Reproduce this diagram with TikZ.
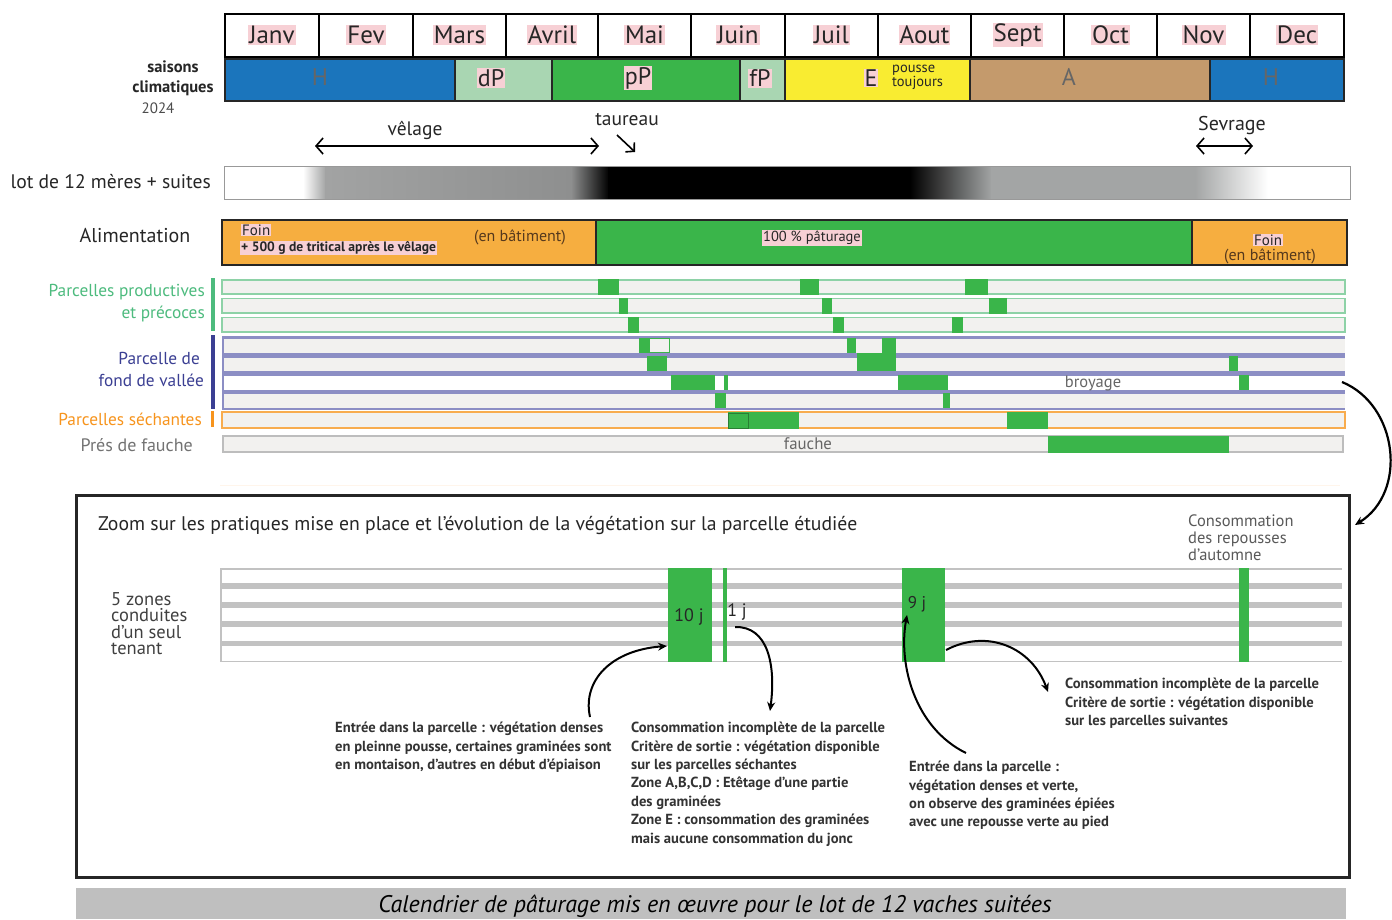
\documentclass[tikz,border=0pt]{standalone}
\usepackage{fontspec}
\setmainfont{PT Sans}
\usetikzlibrary{arrows.meta}
\definecolor{cH}{HTML}{1B75BC}
\definecolor{cdP}{HTML}{A9D6B2}
\definecolor{cG}{HTML}{3AB54A}
\definecolor{cE}{HTML}{F9EC31}
\definecolor{cA}{HTML}{C49A6C}
\definecolor{cOr}{HTML}{F6AE40}
\definecolor{hl}{HTML}{F7D0D5}
\definecolor{rowbg}{HTML}{F2F1EF}
\definecolor{gline}{HTML}{8ED2A7}
\definecolor{bline}{HTML}{8C8EC4}
\definecolor{oline}{HTML}{F8AC4E}
\definecolor{grline}{HTML}{BDBDBD}
\definecolor{txtG}{HTML}{4DBB7E}
\definecolor{txtB}{HTML}{3B3F93}
\definecolor{txtO}{HTML}{F7941D}
\definecolor{dk}{HTML}{262626}
\definecolor{capg}{HTML}{BFBFBF}
\definecolor{gra}{HTML}{A2A3A3}
\definecolor{grb}{HTML}{8E8F8F}
\definecolor{grc}{HTML}{A3A5A5}
\definecolor{zg}{HTML}{C2C2C2}
\definecolor{ann}{HTML}{333333}
\tikzset{
  every node/.style={inner sep=0pt, text=dk},
  monbox/.style={draw=black, line width=1.8pt, fill=white},
  seas/.style={draw=dk, line width=1.4pt},
  hlt/.style={fill=hl, inner sep=1pt},
  ftmon/.style={font=\fontsize{25}{28}\selectfont},
  ftsea/.style={font=\fontsize{24}{26}\selectfont},
  ftlab/.style={font=\fontsize{17.3}{19}\selectfont},
  ftsm/.style={font=\fontsize{15}{17}\selectfont},
  ftann/.style={font=\bfseries\fontsize{14.6}{18.4}\selectfont, text=ann, align=left, anchor=north west},
  gblk/.style={fill=cG},
  arr/.style={line width=2pt, -{Stealth[length=9pt,width=8pt]}},
  barb/.style={line width=1.6pt, {Straight Barb[length=7pt,width=16pt]}-{Straight Barb[length=7pt,width=16pt]}},
}
\begin{document}
\begin{tikzpicture}[x=1pt,y=-1pt]
\useasboundingbox (0,0) rectangle (1392,919);
\fill[white] (0,0) rectangle (1392,919);

% ---- months
\foreach \a/\b/\n [count=\i] in {225/319/Janv,319/413/Fev,413/506/Mars,506/598/Avril,598/691/Mai,691/785/Juin,785/878/Juil,878/971/Aout,971/1064/Sept,1064/1157/Oct,1157/1250/Nov,1250/1344/Dec}{
  \draw[monbox] (\a,14) rectangle (\b,57);
  \node[ftmon,hlt] (mon\i) at ({(\a+\b)/2},35) {\n};
}

% ---- seasons
\draw[seas,fill=cH] (225,59) rectangle (455,101);
\draw[seas,fill=cdP] (455,59) rectangle (552,101);
\draw[seas,fill=cG] (552,59) rectangle (740,101);
\draw[seas,fill=cdP] (740,59) rectangle (785,101);
\draw[seas,fill=cE] (785,59) rectangle (970,101);
\draw[seas,fill=cA] (970,59) rectangle (1210,101);
\draw[seas,fill=cH] (1210,59) rectangle (1344,101);
\node[ftsea,text=black!60] (sH1) at (320,77) {H};
\node[ftsea,hlt] (sdP) at (491,78) {dP};
\node[ftsea,hlt] (spP) at (638,78) {pP};
\node[ftsea,hlt] (sfP) at (760,78) {fP};
\node[ftsea,hlt] (sE) at (871,78) {E};
\node[align=left,anchor=west,font=\fontsize{14.5}{12}\selectfont] (spt) at (892,77) {pousse\\toujours};
\node[ftsea,text=black!60] (sA) at (1069,77) {A};
\node[ftsea,text=black!60] (sH2) at (1271,77) {H};
\node[font=\bfseries\fontsize{16.5}{20}\selectfont,align=center] (saisons) at (173,78) {saisons\\climatiques};
\node[font=\fontsize{15}{16}\selectfont,text=black!70] (an) at (158,108) {2024};

% ---- calving, bull, weaning
\node[font=\fontsize{19.5}{21}\selectfont] (tvel) at (415,130) {vêlage};
\coordinate (velL) at (315,146);
\coordinate (velR) at (599,146);
\draw[barb] (velL) -- (velR);
\node[font=\fontsize{19.5}{21}\selectfont] (ttau) at (627,120) {taureau};
\coordinate (tauA) at (617,135);
\coordinate (tauB) at (635,152);
\draw[line width=1.6pt,-{Straight Barb[length=6pt,width=13pt]}] (tauA) -- (tauB);
\node[font=\fontsize{20}{22}\selectfont] (tsev) at (1232,125) {Sevrage};
\coordinate (sevL) at (1196,146);
\coordinate (sevR) at (1253,146);
\draw[barb] (sevL) -- (sevR);

% ---- herd bar
\node[font=\fontsize{19.6}{21}\selectfont,anchor=east] (tlot) at (211,182) {lot de 12 mères + suites};
\fill[white] (224,166) rectangle (304,199);
\shade[left color=white,right color=gra] (303,166) rectangle (326,199);
\shade[left color=gra,right color=grb] (325,166) rectangle (572,199);
\shade[left color=grb,right color=black] (571,166) rectangle (609,199);
\fill[black] (608,166) rectangle (911,199);
\shade[left color=black,right color=grc] (910,166) rectangle (992,199);
\fill[grc] (991,166) rectangle (1196,199);
\shade[left color=grc,right color=white] (1195,166) rectangle (1268,199);
\draw[black!40,line width=1pt] (224,166) rectangle (1350,199);

% ---- feeding
\node[font=\fontsize{20}{22}\selectfont] (talim) at (135,236) {Alimentation};
\fill[cOr] (222,220) rectangle (596,265);
\fill[cG] (596,220) rectangle (1192,265);
\fill[cOr] (1192,220) rectangle (1347,265);
\draw[dk,line width=1.6pt] (222,220) rectangle (1347,265);
\draw[dk,line width=1.4pt] (596,220) -- (596,265) (1192,220) -- (1192,265);
\node[ftsm,hlt,anchor=west] (foin1) at (241,230) {Foin};
\node[font=\bfseries\fontsize{13.6}{15}\selectfont,hlt,anchor=west] (trit) at (240,248) {+ 500 g de tritical après le vêlage};
\node[font=\fontsize{16}{18}\selectfont,text=black!55!brown] (bat1) at (520,237) {(en bâtiment)};
\node[font=\fontsize{14.5}{16}\selectfont,hlt] (pat) at (812,238) {100 \% pâturage};
\node[ftsm,hlt] (foin2) at (1268,240) {Foin};
\node[font=\fontsize{16}{18}\selectfont,text=black!55!brown] (bat2) at (1270,256) {(en bâtiment)};

% ---- plot rows: labels
\fill[txtG] (211,278) rectangle (215,331);
\fill[txtB] (211,335) rectangle (215,409);
\fill[txtO] (211,411) rectangle (214,427);
\node[ftlab,text=txtG,anchor=east] (lp1) at (205,292) {Parcelles productives};
\node[ftlab,text=txtG,anchor=east] (lp2) at (205,314) {et précoces};
\node[ftlab,text=txtB,anchor=east] (lv1) at (200,358) {Parcelle de};
\node[ftlab,text=txtB,anchor=east] (lv2) at (204,380) {fond de vallée};
\node[ftlab,text=txtO,anchor=east] (ls) at (202,419) {Parcelles séchantes};
\node[font=\fontsize{18}{20}\selectfont,text=black!55,anchor=east] (lf) at (193,445) {Prés de fauche};

% green rows
\foreach \ya/\yb in {280/294,298.5/313,317.5/332}{
  \draw[gline,line width=1.6pt,fill=rowbg] (222,\ya) rectangle (1345,\yb);
}
% blue rows
\fill[bline] (222,336) rectangle (1345,410);
\fill[rowbg] (223.5,338.5) rectangle (1345,352.5);
\fill[rowbg] (223.5,357.5) rectangle (1345,370.5);
\fill[white] (223.5,375.5) rectangle (1345,389.5);
\fill[rowbg] (223.5,393.5) rectangle (1345,407.5);
% dry row
\draw[oline,line width=1.8pt,fill=rowbg] (222,412) rectangle (1345,428);
% hay row
\draw[grline,line width=1.5pt,fill=rowbg] (223,436) rectangle (1343,452);

% grazing blocks
\foreach \xa/\xb/\ya/\yb in {
  598/619/279/295, 800/819/279/295, 965/988/279/295,
  619/628/298/314, 822/832/298/314, 989/1007/298/314,
  628/639/317/333, 833/844/317/333, 952/963/317/333,
  639/649/338/353, 847/856/338/353, 882/896/338/371,
  647/667/356/371, 857/896/353/371, 1229/1238/356/371,
  671/715/375/390, 898/948/375/390, 1239/1249/375/390,
  715/726/393/408, 943/950/393/408,
  728/799/412/429, 1007/1048/412/429,
  1048/1229/436/453}{
  \fill[gblk] (\xa,\ya) rectangle (\xb,\yb);
}
\draw[cG,line width=1pt] (649,338.5) rectangle (669,352.5);
\fill[gblk] (724,375) rectangle (728,390);
\draw[cG!70!black,line width=0.8pt] (728,413) rectangle (748,428);
\node[font=\fontsize{16.5}{18}\selectfont,text=black!60] (broy) at (1093,383) {broyage};
\node[font=\fontsize{16.8}{18}\selectfont,text=black!60] (fau) at (808,444) {fauche};

% faint separator
\draw[orange!8,line width=1pt] (220,485) -- (1340,485);

% link to zoom box
\coordinate (rowEnd) at (1342,382);
\coordinate (boxIn) at (1355,525);
\draw[arr,line width=2.2pt] (rowEnd) .. controls (1398,405) and (1408,492) .. (boxIn);

% ---- zoom box
\node[draw=dk,line width=2.6pt,minimum width=1273pt,minimum height=382pt,anchor=north west] (zbox) at (75,494) {};
\node[font=\fontsize{19.7}{21}\selectfont,anchor=west] (ztitle) at (98,525) {Zoom sur les pratiques mise en place et l'évolution de la végétation sur la parcelle étudiée};
\node[font=\fontsize{16.5}{17}\selectfont,text=black!65,align=left,anchor=north west] (zrep) at (1188,515) {Consommation\\des repousses\\d'automne};
\node[font=\fontsize{18.5}{16.5}\selectfont,text=black!75,align=left,anchor=north west] (z5) at (111,592) {5 zones\\conduites\\d'un seul\\tenant};

\fill[zg] (220,568) rectangle (1342,662);
\foreach \ya/\yb in {569.5/583,588.5/602,607.5/621,627/640.5,646/660.5}{
  \fill[white] (221.5,\ya) rectangle (1342,\yb);
}
\fill[gblk] (668,568) rectangle (712,662);
\fill[gblk] (723,568) rectangle (727,662);
\fill[gblk] (902,568) rectangle (945,662);
\fill[gblk] (1239,568) rectangle (1249,662);
\node[font=\fontsize{18}{19}\selectfont] (d10) at (689,617) {10 j};
\node[font=\fontsize{18}{19}\selectfont] (d1) at (737,612) {1 j};
\node[font=\fontsize{17}{18}\selectfont] (d9) at (917,604) {9 j};

% annotations
\node[ftann] (annA) at (335,722) {Entrée dans la parcelle : végétation denses\\en pleinne pousse, certaines graminées sont\\en montaison, d'autres en début d'épiaison};
\node[ftann] (annB) at (631,722) {Consommation incomplète de la parcelle\\Critère de sortie : végétation disponible\\sur les parcelles séchantes\\Zone A,B,C,D : Etêtage d'une partie\\des graminées\\Zone E : consommation des graminées\\mais aucune consommation du jonc};
\node[ftann] (annC) at (909,761) {Entrée dans la parcelle :\\végétation denses et verte,\\on observe des graminées épiées\\avec une repousse verte au pied};
\node[ftann] (annD) at (1065,678) {Consommation incomplète de la parcelle\\Critère de sortie : végétation disponible\\sur les parcelles suivantes};

\coordinate (a1s) at (590,717);
\coordinate (a1e) at (667,646);
\draw[arr] (a1s) .. controls (582,680) and (612,650) .. (a1e);
\coordinate (a2s) at (735,627);
\coordinate (a2e) at (770,711);
\draw[arr] (a2s) .. controls (768,626) and (776,665) .. (a2e);
\coordinate (a3s) at (966,753);
\coordinate (a3e) at (907,615);
\draw[arr] (a3s) .. controls (915,728) and (898,665) .. (a3e);
\coordinate (a4s) at (946,650);
\coordinate (a4e) at (1048,692);
\draw[arr] (a4s) .. controls (988,628) and (1032,648) .. (a4e);

% ---- caption
\fill[capg] (76,888) rectangle (1346,919);
\node[font=\itshape\fontsize{24}{25}\selectfont,text=black] (cap) at (715,906) {Calendrier de pâturage mis en œuvre pour le lot de 12 vaches suitées};
\end{tikzpicture}
\end{document}
